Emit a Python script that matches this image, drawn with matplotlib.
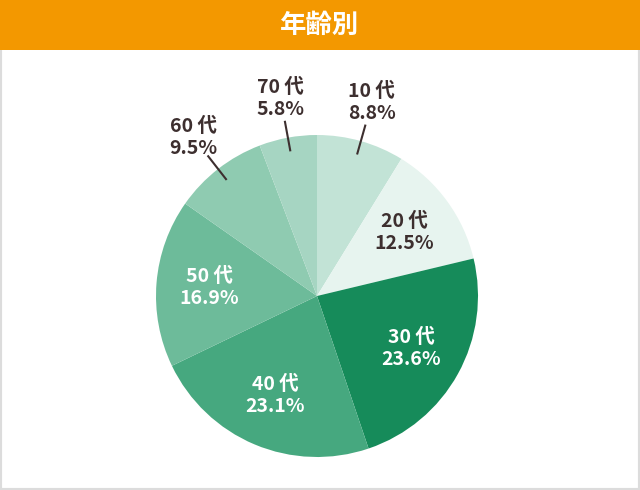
import matplotlib
matplotlib.use("Agg")
import matplotlib.pyplot as plt
import numpy as np
from matplotlib.patches import Rectangle

plt.rcParams['font.family'] = ['Noto Sans CJK JP', 'DejaVu Sans']

title = "年齢別"
groups = ["10 代", "20 代", "30 代", "40 代", "50 代", "60 代", "70 代"]
shares = [8.8, 12.5, 23.6, 23.1, 16.9, 9.5, 5.8]
colors = ["#c2e3d6", "#e7f4ef", "#168b5a", "#46a87f", "#6dbb9a", "#8fcbb1", "#a6d5c2"]
inside = [False, True, True, True, True, False, False]
text_dark = "#3d2f2f"

W, H = 640, 490
fig = plt.figure(figsize=(W / 100, H / 100), dpi=100)

# frame and header (behind the axes)
fig.patches.append(Rectangle((0, 0), 1, 1, transform=fig.transFigure, zorder=-10,
                             facecolor="white", edgecolor="#dcdcdc", linewidth=3))
fig.patches.append(Rectangle((0, 1 - 50 / H), 1, 50 / H, transform=fig.transFigure, zorder=-9,
                             facecolor="#f39800", edgecolor="none"))
fig.text(0.5, 1 - 25 / H, title, color="white", fontsize=19, fontweight="bold",
         ha="center", va="center")

cx, cy, R = 317, 296, 161
ax = fig.add_axes([(cx - R) / W, (H - cy - R) / H, 2 * R / W, 2 * R / H])
ax.patch.set_visible(False)
wedges, _ = ax.pie(shares, colors=colors, startangle=90, counterclock=False,
                   radius=1.0, wedgeprops=dict(linewidth=0))
ax.set_xlim(-1, 1)
ax.set_ylim(-1, 1)
ax.set_aspect("auto")
ax.axis("off")

for w, g, s, ins in zip(wedges, groups, shares, inside):
    a = np.deg2rad((w.theta1 + w.theta2) / 2)
    label = f"{g}\n{s}%"
    if ins:
        r = 0.67
        col = text_dark if s < 15 else "white"
        ax.text(r * np.cos(a), r * np.sin(a), label, ha="center", va="center",
                color=col, fontsize=14, fontweight="bold", linespacing=1.2)
    else:
        ax.plot([0.92 * np.cos(a), 1.1 * np.cos(a)], [0.92 * np.sin(a), 1.1 * np.sin(a)],
                color=text_dark, linewidth=1.5, clip_on=False)
        r = 1.25
        ax.text(r * np.cos(a), r * np.sin(a), label, ha="center", va="center",
                color=text_dark, fontsize=14, fontweight="bold", linespacing=1.2)

fig.savefig("out.png", dpi=100)
